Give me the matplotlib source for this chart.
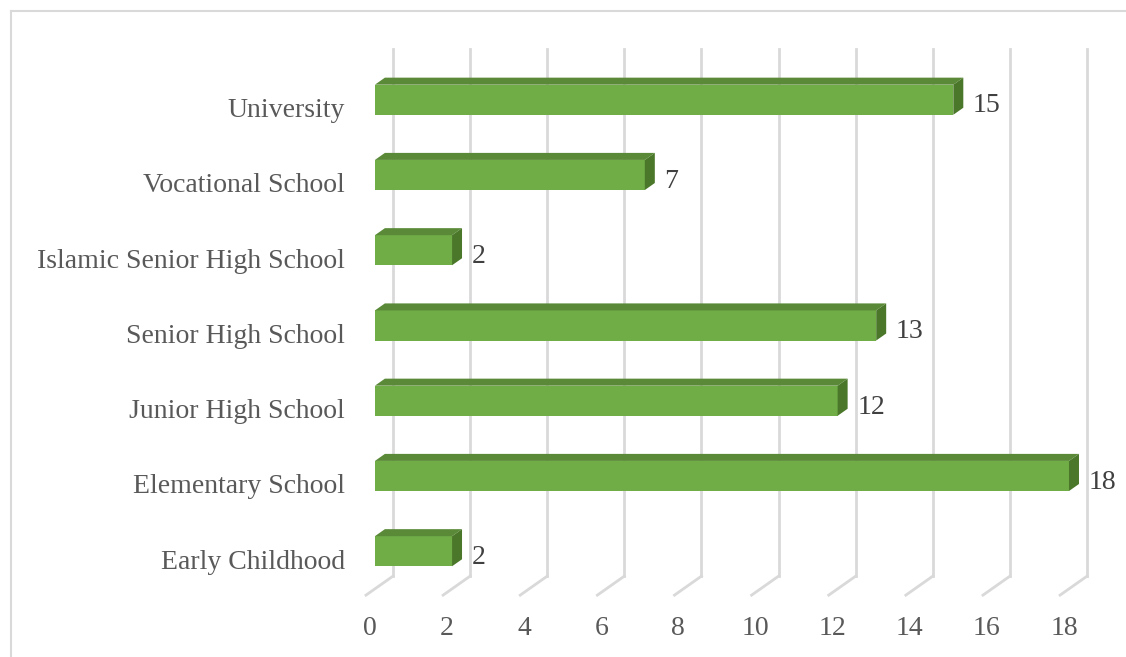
import matplotlib
matplotlib.use("Agg")
import matplotlib.pyplot as plt
from matplotlib.patches import Polygon
from matplotlib.lines import Line2D

categories = ["Early Childhood", "Elementary School", "Junior High School",
              "Senior High School", "Islamic Senior High School",
              "Vocational School", "University"]
values = [2, 18, 12, 13, 2, 7, 15]
xticks = [0, 2, 4, 6, 8, 10, 12, 14, 16, 18]

W, H = 1126, 657
fig = plt.figure(figsize=(W / 100, H / 100), dpi=100)
ax = fig.add_axes([0, 0, 1, 1])
ax.set_axis_off()

# pixel geometry (oblique 3D projection)
x0_px, unit_px = 366.0, 38.56
y0_px, cat_px = 557.5, 75.25
ax.set_xlim(-x0_px / unit_px, (W - x0_px) / unit_px)
ax.set_ylim((y0_px - H) / cat_px, y0_px / cat_px)

DX = 27 / unit_px     # full-depth offset in value units
DY = 19 / cat_px      # full-depth offset in category units
d1, d2 = 0.33, 0.70   # bar front/back depth
bh = 0.40             # bar height (category units)

grid_c = "#D9D9D9"
text_c = "#595959"
font = "Liberation Serif"
fs = 20

# back wall gridlines + floor diagonals
for v in xticks:
    ax.add_line(Line2D([v + DX, v + DX], [-0.5 + DY, 6.5 + DY], color=grid_c, lw=2, zorder=1))
    ax.add_line(Line2D([v, v + DX], [-0.5, -0.5 + DY], color=grid_c, lw=2, zorder=1))
    ax.text(v + 0.1, -0.95, str(v), ha="center", va="center", fontsize=fs,
            family=font, color=text_c)

front_c = "#70AD47"
top_c = "#5A8A38"
side_c = "#4A7729"

for i, (cat, v) in enumerate(zip(categories, values)):
    fx, fy = d1 * DX, i + d1 * DY
    bx, by = d2 * DX, i + d2 * DY
    lo, hi = -bh / 2, bh / 2
    # front face
    ax.add_patch(Polygon([(fx, fy + lo), (v + fx, fy + lo), (v + fx, fy + hi), (fx, fy + hi)],
                         closed=True, facecolor=front_c, edgecolor="none", zorder=3))
    # top face
    ax.add_patch(Polygon([(fx, fy + hi), (v + fx, fy + hi), (v + bx, by + hi), (bx, by + hi)],
                         closed=True, facecolor=top_c, edgecolor="none", zorder=3))
    # right side face
    ax.add_patch(Polygon([(v + fx, fy + lo), (v + bx, by + lo), (v + bx, by + hi), (v + fx, fy + hi)],
                         closed=True, facecolor=side_c, edgecolor="none", zorder=3))
    # value label
    ax.text(v + bx + 0.25, i + 0.0, str(v), ha="left", va="center", fontsize=fs,
            family=font, color="#404040", zorder=4)
    # category label
    ax.text(-0.545, i - 0.06, cat, ha="right", va="center", fontsize=fs,
            family=font, color=text_c)

# chart border (left and top visible)
ax.add_line(Line2D([-(x0_px - 11) / unit_px] * 2, [(y0_px - H) / cat_px, (y0_px - 11) / cat_px],
                   color=grid_c, lw=1.5, zorder=0))
ax.add_line(Line2D([-(x0_px - 11) / unit_px, (W - x0_px) / unit_px], [(y0_px - 11) / cat_px] * 2,
                   color=grid_c, lw=1.5, zorder=0))

fig.savefig("out.png", dpi=100)
